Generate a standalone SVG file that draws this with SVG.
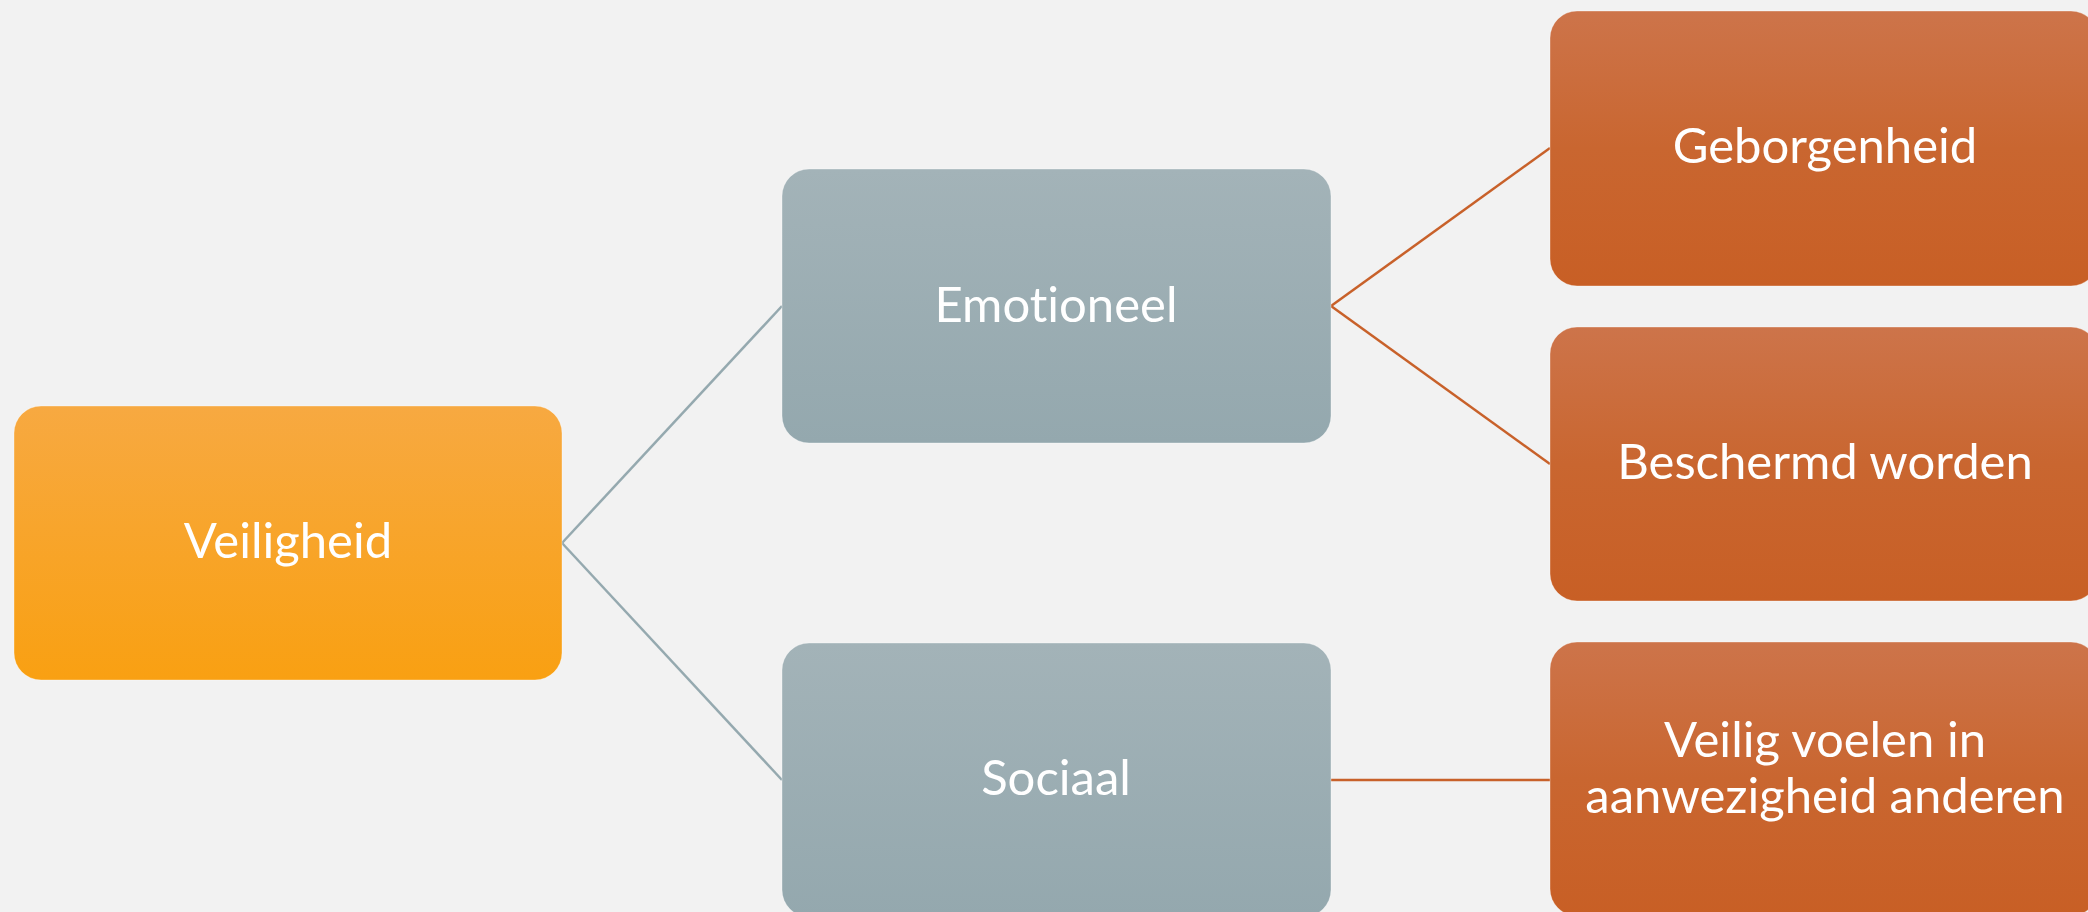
<svg xmlns="http://www.w3.org/2000/svg" width="2088" height="912" viewBox="0 0 2088 912">
  <defs>
    <linearGradient id="gOrange" x1="0" y1="0" x2="0" y2="1">
      <stop offset="0" stop-color="#F7A941"/>
      <stop offset="1" stop-color="#F9A012"/>
    </linearGradient>
    <linearGradient id="gGray" x1="0" y1="0" x2="0" y2="1">
      <stop offset="0" stop-color="#A3B3B8"/>
      <stop offset="1" stop-color="#94A8AE"/>
    </linearGradient>
    <linearGradient id="gRust" x1="0" y1="0" x2="0" y2="1">
      <stop offset="0" stop-color="#CD744A"/>
      <stop offset="0.5" stop-color="#C96630"/>
      <stop offset="1" stop-color="#C85F25"/>
    </linearGradient>
  </defs>
  <style>
    .box { stroke: #ffffff; stroke-opacity: 0.35; stroke-width: 1; }
    .lbl { font-family: "Lato", "Open Sans", "Liberation Sans", sans-serif; font-size: 49px; fill: #ffffff; text-anchor: middle; font-variant-ligatures: none; }
    .cg { stroke: #95A9AF; stroke-width: 2.5; fill: none; }
    .co { stroke: #C8612A; stroke-width: 2.5; fill: none; }
  </style>
  <rect x="0" y="0" width="2088" height="912" fill="#F2F2F2"/>
  <g id="connectors">
    <line class="cg" x1="562" y1="543" x2="782" y2="306"/>
    <line class="cg" x1="562" y1="543" x2="782" y2="780"/>
    <line class="co" x1="1331" y1="306" x2="1550" y2="148"/>
    <line class="co" x1="1331" y1="306" x2="1550" y2="464"/>
    <line class="co" x1="1331" y1="780" x2="1550" y2="780"/>
  </g>
  <g id="veiligheid">
    <rect class="box" x="14" y="406" width="548" height="274" rx="27" fill="url(#gOrange)"/>
    <text class="lbl" x="288" y="558">Veiligheid</text>
  </g>
  <g id="emotioneel">
    <rect class="box" x="782" y="169" width="549" height="274" rx="27" fill="url(#gGray)"/>
    <text class="lbl" x="1056" y="322">Emotioneel</text>
  </g>
  <g id="sociaal">
    <rect class="box" x="782" y="643" width="549" height="274" rx="27" fill="url(#gGray)"/>
    <text class="lbl" x="1056" y="795">Sociaal</text>
  </g>
  <g id="geborgenheid">
    <rect class="box" x="1550" y="11" width="548" height="275" rx="27" fill="url(#gRust)"/>
    <text class="lbl" x="1825" y="163">Geborgenheid</text>
  </g>
  <g id="beschermd">
    <rect class="box" x="1550" y="327" width="548" height="274" rx="27" fill="url(#gRust)"/>
    <text class="lbl" x="1825" y="479">Beschermd worden</text>
  </g>
  <g id="veiligvoelen">
    <rect class="box" x="1550" y="642" width="548" height="274" rx="27" fill="url(#gRust)"/>
    <text class="lbl" x="1825" y="757">Veilig voelen in</text>
    <text class="lbl" x="1825" y="813">aanwezigheid anderen</text>
  </g>
</svg>
